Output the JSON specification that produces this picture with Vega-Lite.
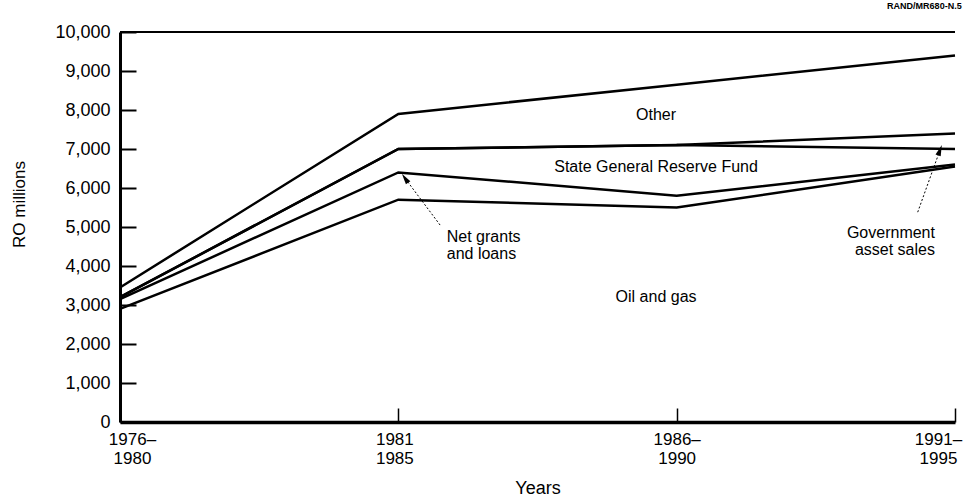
{
  "$schema": "https://vega.github.io/schema/vega-lite/v6.json",
  "width": 835,
  "height": 390,
  "autosize": "none",
  "padding": {"left": 120, "top": 32, "right": 9, "bottom": 80},
  "background": "white",
  "config": {
    "view": {"stroke": null},
    "font": "Liberation Sans",
    "text": {"font": "Liberation Sans", "color": "black"}
  },
  "title": {"text": "RAND/MR680-N.5", "anchor": "end", "fontSize": 9, "fontWeight": "bold", "offset": 12, "font": "Liberation Sans", "color": "black"},
  "datasets": {
    "revenue": [
      {"year": 1976, "series": "Oil and gas", "order": 1, "value": 2900},
      {"year": 1976, "series": "Net grants and loans", "order": 2, "value": 250},
      {"year": 1976, "series": "State General Reserve Fund", "order": 3, "value": 50},
      {"year": 1976, "series": "Government asset sales", "order": 4, "value": 0},
      {"year": 1976, "series": "Other", "order": 5, "value": 250},
      {"year": 1981, "series": "Oil and gas", "order": 1, "value": 5700},
      {"year": 1981, "series": "Net grants and loans", "order": 2, "value": 700},
      {"year": 1981, "series": "State General Reserve Fund", "order": 3, "value": 600},
      {"year": 1981, "series": "Government asset sales", "order": 4, "value": 0},
      {"year": 1981, "series": "Other", "order": 5, "value": 900},
      {"year": 1986, "series": "Oil and gas", "order": 1, "value": 5500},
      {"year": 1986, "series": "Net grants and loans", "order": 2, "value": 300},
      {"year": 1986, "series": "State General Reserve Fund", "order": 3, "value": 1300},
      {"year": 1986, "series": "Government asset sales", "order": 4, "value": 0},
      {"year": 1986, "series": "Other", "order": 5, "value": 1550},
      {"year": 1991, "series": "Oil and gas", "order": 1, "value": 6550},
      {"year": 1991, "series": "Net grants and loans", "order": 2, "value": 50},
      {"year": 1991, "series": "State General Reserve Fund", "order": 3, "value": 400},
      {"year": 1991, "series": "Government asset sales", "order": 4, "value": 400},
      {"year": 1991, "series": "Other", "order": 5, "value": 2000}
    ],
    "centerLabels": [
      {"year": 1985.63, "value": 7870, "label": "Other"},
      {"year": 1985.63, "value": 6540, "label": "State General Reserve Fund"},
      {"year": 1985.63, "value": 3200, "label": "Oil and gas"}
    ],
    "leftLabels": [
      {"year": 1981.87, "value": 4740, "label": "Net grants\nand loans"}
    ],
    "rightLabels": [
      {"year": 1990.64, "value": 4840, "label": "Government\nasset sales"}
    ],
    "arrow1": [{"year": 1981.75, "value": 5050, "year2": 1981.12, "value2": 6250}],
    "arrow2": [{"year": 1990.33, "value": 5380, "year2": 1990.73, "value2": 6970}],
    "frame": [{"value": 10000}]
  },
  "encoding": {
    "x": {
      "field": "year",
      "type": "quantitative",
      "scale": {"domain": [1976, 1991], "nice": false, "zero": false},
      "axis": {
        "values": [1976, 1981, 1986, 1991],
        "labelExpr": "datum.value == 1981 ? ['1981', '1985'] : [datum.value + '–', '' + (datum.value + 4)]",
        "labelFlush": false,
        "labelOffset": {"condition": [{"test": "datum.value == 1976", "value": 12}, {"test": "datum.value == 1991", "value": -17}, {"test": "datum.value == 1981", "value": -4}], "value": 0},
        "labelFontSize": 17,
        "labelLineHeight": 19,
        "labelColor": "black",
        "labelPadding": 23,
        "labelBaseline": "top",
        "tickSize": -14,
        "tickWidth": 1.5,
        "tickColor": "black",
        "domainWidth": 3.5,
        "domainColor": "black",
        "grid": false,
        "title": "Years",
        "titleFontSize": 18,
        "titleFontWeight": "normal",
        "titleColor": "black",
        "titlePadding": 13
      }
    },
    "y": {
      "field": "value",
      "type": "quantitative",
      "scale": {"domain": [0, 10000], "nice": false},
      "axis": {
        "values": [0, 1000, 2000, 3000, 4000, 5000, 6000, 7000, 8000, 9000, 10000],
        "labelExpr": "format(datum.value, ',')",
        "labelFontSize": 18,
        "labelColor": "black",
        "labelPadding": 26,
        "tickSize": -16,
        "tickWidth": 2,
        "tickColor": "black",
        "domainWidth": 3,
        "domainColor": "black",
        "grid": false,
        "title": "RO millions",
        "titleFontSize": 17,
        "titleFontWeight": "normal",
        "titleColor": "black",
        "titlePadding": 26,
        "titleY": 172
      }
    }
  },
  "layer": [
    {
      "data": {"name": "frame"},
      "mark": {"type": "rule", "color": "black", "strokeWidth": 2},
      "encoding": {"x": null}
    },
    {
      "data": {"name": "revenue"},
      "transform": [
        {"stack": "value", "groupby": ["year"], "sort": [{"field": "order", "order": "ascending"}], "as": ["v0", "v1"]}
      ],
      "mark": {"type": "line", "color": "black", "strokeWidth": 2.5, "strokeJoin": "miter"},
      "encoding": {
        "y": {"field": "v1", "type": "quantitative"},
        "detail": {"field": "series", "type": "nominal"}
      }
    },
    {
      "data": {"name": "centerLabels"},
      "mark": {"type": "text", "fontSize": 16, "align": "center", "baseline": "middle"},
      "encoding": {"text": {"field": "label"}}
    },
    {
      "data": {"name": "leftLabels"},
      "mark": {"type": "text", "fontSize": 16, "align": "left", "baseline": "middle", "lineBreak": "\n", "lineHeight": 17},
      "encoding": {"text": {"field": "label"}}
    },
    {
      "data": {"name": "rightLabels"},
      "mark": {"type": "text", "fontSize": 16, "align": "right", "baseline": "middle", "lineBreak": "\n", "lineHeight": 17},
      "encoding": {"text": {"field": "label"}}
    },
    {
      "data": {"name": "arrow1"},
      "mark": {"type": "rule", "color": "black", "strokeWidth": 1, "strokeDash": [2, 2]},
      "encoding": {"x2": {"field": "year2"}, "y2": {"field": "value2"}}
    },
    {
      "data": {"name": "arrow2"},
      "mark": {"type": "rule", "color": "black", "strokeWidth": 1, "strokeDash": [2, 2]},
      "encoding": {"x2": {"field": "year2"}, "y2": {"field": "value2"}}
    },
    {
      "data": {"name": "arrow1"},
      "mark": {"type": "point", "shape": "M0,-1L0.5,1L-0.5,1Z", "filled": true, "color": "black", "opacity": 1, "size": 120, "angle": 325},
      "encoding": {"x": {"field": "year2", "type": "quantitative"}, "y": {"field": "value2", "type": "quantitative"}}
    },
    {
      "data": {"name": "arrow2"},
      "mark": {"type": "point", "shape": "M0,-1L0.5,1L-0.5,1Z", "filled": true, "color": "black", "opacity": 1, "size": 120, "angle": 20},
      "encoding": {"x": {"field": "year2", "type": "quantitative"}, "y": {"field": "value2", "type": "quantitative"}}
    }
  ]
}
